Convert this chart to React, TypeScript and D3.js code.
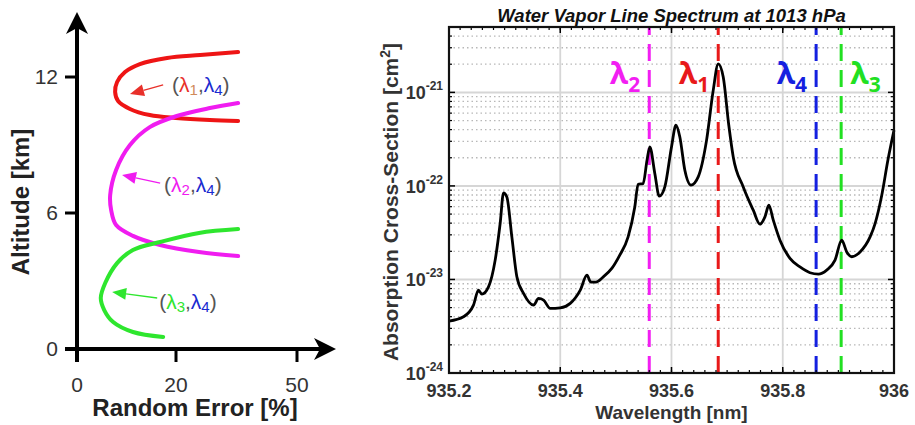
import React from "react";
import * as d3 from "d3";

// ---------- Left panel data ----------
const altitudeTicks = [0, 6, 12];
const errorTicks = [0, 20, 50];

const redErr = [35.4, 26.0, 18.2, 12.7, 9.7, 8.1, 7.7, 8.3, 10.7, 14.7, 20.0, 28.4, 35.4];
const redAlt = [13.1, 12.97, 12.84, 12.57, 12.22, 11.78, 11.34, 10.94, 10.59, 10.32, 10.19, 10.1, 10.06];

const magErr = [35.4, 28.4, 20.2, 14.7, 10.7, 7.9, 6.7, 6.9, 7.9, 11.3, 16.8, 25.7, 35.4];
const magAlt = [10.85, 10.63, 10.28, 9.79, 9.0, 7.9, 6.79, 6.13, 5.47, 4.99, 4.59, 4.28, 4.1];

const grnErr = [35.4, 25.7, 16.8, 11.3, 8.1, 5.7, 4.8, 5.5, 7.3, 11.3, 17.4];
const grnAlt = [5.29, 5.12, 4.72, 4.37, 3.79, 2.91, 2.25, 1.72, 1.19, 0.75, 0.53];

// ---------- Right panel data ----------
const wavelengths = [
  935.2, 935.226, 935.244, 935.253, 935.259, 935.271, 935.283, 935.292, 935.298, 935.304,
  935.313, 935.322, 935.334, 935.352, 935.361, 935.37, 935.382, 935.4, 935.418, 935.436,
  935.448, 935.455, 935.464, 935.477, 935.493, 935.507, 935.522, 935.534, 935.54, 935.549,
  935.556, 935.561, 935.57, 935.578, 935.588, 935.6, 935.608, 935.615, 935.624, 935.635,
  935.648, 935.663, 935.675, 935.684, 935.693, 935.703, 935.711, 935.729, 935.747, 935.759,
  935.768, 935.775, 935.783, 935.795, 935.813, 935.831, 935.849, 935.864, 935.879, 935.894,
  935.906, 935.915, 935.924, 935.939, 935.957, 935.966, 935.978, 935.989, 936.0,
];
const crossSections = [
  3.59e-24, 3.99e-24, 5.32e-24, 7.69e-24, 6.97e-24, 8.34e-24, 1.61e-23, 3.99e-23, 8.41e-23, 7.62e-23,
  2.85e-23, 1.07e-23, 7.1e-24, 5.32e-24, 6.27e-24, 6.01e-24, 4.91e-24, 4.98e-24, 5.55e-24, 7.69e-24,
  1.11e-23, 9.38e-24, 9.38e-24, 1.06e-23, 1.32e-23, 1.82e-23, 2.85e-23, 5.96e-23, 1.04e-22, 1.06e-22,
  1.88e-22, 2.61e-22, 1.36e-22, 7.76e-23, 9.75e-23, 2.61e-22, 4.45e-22, 3.33e-22, 1.47e-22, 1.02e-22,
  1.25e-22, 3.07e-22, 1.05e-21, 2.02e-21, 1.46e-21, 4.45e-22, 2.04e-22, 9.75e-23, 5.5e-23, 3.9e-23,
  4.67e-23, 6.22e-23, 4.3e-23, 2.63e-23, 1.68e-23, 1.36e-23, 1.18e-23, 1.14e-23, 1.26e-23, 1.61e-23,
  2.63e-23, 1.97e-23, 1.75e-23, 1.97e-23, 2.85e-23, 3.96e-23, 7.94e-23, 1.88e-22, 3.93e-22,
];
const xTicks = [935.2, 935.4, 935.6, 935.8, 936];
const xTickLabels = ["935.2", "935.4", "935.6", "935.8", "936"];
const yDecades = [-24, -23, -22, -21];
const lineNames = ["2", "1", "4", "3"];
const lineWavelengths = [935.56, 935.684, 935.86, 935.905];
const lineColors = ["#f21ef2", "#e8191a", "#1420e0", "#22e022"];

export default function App() {
  // ---- left scales ----
  const ex = d3.scaleLinear().domain([0, 20, 50]).range([77, 176, 297]);
  const ay = d3.scaleLinear().domain([0, 12]).range([349, 77]);
  const curve = d3
    .line<[number, number]>()
    .x((d) => ex(d[0]))
    .y((d) => ay(d[1]))
    .curve(d3.curveCatmullRom.alpha(0.5));
  const zip = (a: number[], b: number[]) => a.map((v, i) => [v, b[i]] as [number, number]);

  // ---- right scales ----
  const L = 449, R = 894, T = 27, B = 373;
  const x = d3.scaleLinear().domain([935.2, 936]).range([L, R]);
  const y = d3.scaleLog().domain([1e-24, 5e-21]).range([B, T]);
  const spec = d3
    .line<number>()
    .x((_, i) => x(wavelengths[i]))
    .y((d) => y(d))
    .curve(d3.curveMonotoneX);

  const minorY: number[] = [];
  yDecades.forEach((d) => {
    for (let m = 2; m <= 9; m++) {
      const v = m * Math.pow(10, d);
      if (v <= 5.0001e-21) minorY.push(v);
    }
  });
  const minorX = d3.range(0, 41).map((i) => 935.2 + i * 0.02);

  const arrow = (tail: [number, number], tip: [number, number], color: string) => {
    const x1 = ex(tail[0]), y1 = ay(tail[1]), x2 = ex(tip[0]), y2 = ay(tip[1]);
    const ang = Math.atan2(y2 - y1, x2 - x1);
    const hl = 14, hw = 6;
    const bx = x2 - hl * Math.cos(ang), by = y2 - hl * Math.sin(ang);
    const px = -Math.sin(ang) * hw, py = Math.cos(ang) * hw;
    return (
      <g>
        <line x1={x1} y1={y1} x2={bx} y2={by} stroke={color} strokeWidth={1.3} />
        <polygon points={`${x2},${y2} ${bx + px},${by + py} ${bx - px},${by - py}`} fill={color} />
      </g>
    );
  };

  const annot = (pos: [number, number], c1: string, s1: string, sc: string) => (
    <text x={ex(pos[0])} y={ay(pos[1]) + 7} fontSize={21} fontFamily="Liberation Sans, Arial, sans-serif" fill="#555">
      (<tspan fill={c1}>λ</tspan>
      <tspan fill={sc} fontSize={15} dy={3}>{s1}</tspan>
      <tspan dy={-3}>,</tspan>
      <tspan fill="#1a2ad0">λ</tspan>
      <tspan fill="#1a2ad0" fontSize={15} dy={3}>4</tspan>
      <tspan dy={-3}>)</tspan>
    </text>
  );

  return (
    <div style={{ position: "absolute", left: 0, top: 0 }}>
      <svg width={915} height={425} style={{ display: "block", background: "#fff" }}>
        {/* ================= LEFT PANEL ================= */}
        <g fontFamily="Liberation Sans, Arial, sans-serif">
          <path d={curve(zip(redErr, redAlt)) || ""} fill="none" stroke="#ee1515" strokeWidth={4} strokeLinecap="round" />
          <path d={curve(zip(magErr, magAlt)) || ""} fill="none" stroke="#f01cf0" strokeWidth={4} strokeLinecap="round" />
          <path d={curve(zip(grnErr, grnAlt)) || ""} fill="none" stroke="#2ee62e" strokeWidth={4} strokeLinecap="round" />

          <line x1={ex(0)} y1={ay(0) + 13} x2={ex(0)} y2={26} stroke="#000" strokeWidth={4} />
          <line x1={ex(0) - 12} y1={ay(0)} x2={322} y2={ay(0)} stroke="#000" strokeWidth={4} />
          <path d={`M${ex(0)},12 L${ex(0) + 11},34 L${ex(0)},28 L${ex(0) - 11},34 Z`} fill="#000" />
          <path d={`M336,${ay(0)} L314,${ay(0) - 11} L320,${ay(0)} L314,${ay(0) + 11} Z`} fill="#000" />
          {altitudeTicks.filter((t) => t > 0).map((t) => (
            <line key={t} x1={ex(0) - 12} x2={ex(0)} y1={ay(t)} y2={ay(t)} stroke="#000" strokeWidth={3} />
          ))}
          {errorTicks.filter((t) => t > 0).map((t) => (
            <line key={t} x1={ex(t)} x2={ex(t)} y1={ay(0)} y2={ay(0) + 13} stroke="#000" strokeWidth={3} />
          ))}
          {altitudeTicks.map((t) => (
            <text key={t} x={58} y={ay(t) + 7} textAnchor="end" fontSize={21} fill="#333">{t}</text>
          ))}
          {errorTicks.map((t) => (
            <text key={t} x={ex(t)} y={392} textAnchor="middle" fontSize={21} fill="#333">{t}</text>
          ))}
          <text x={195} y={416} textAnchor="middle" fontSize={24} fontWeight="bold" fill="#222">Random Error [%]</text>
          <text transform="translate(29,202) rotate(-90)" textAnchor="middle" fontSize={24} fontWeight="bold" fill="#222">Altitude [km]</text>

          {arrow([17.4, 11.65], [10.7, 11.25], "#e8302a")}
          {annot([19.2, 11.65], "#e8302a", "1", "#d08a5a")}
          {arrow([16.8, 7.32], [9.1, 7.68], "#f01cf0")}
          {annot([17.6, 7.24], "#f01cf0", "2", "#f01cf0")}
          {arrow([16.2, 2.25], [7.1, 2.51], "#2ee62e")}
          {annot([16.6, 2.07], "#2ee62e", "3", "#2ee62e")}
        </g>

        {/* ================= RIGHT PANEL ================= */}
        <g fontFamily="Liberation Sans, Arial, sans-serif">
          {minorY.map((v, i) => (
            <line key={"mg" + i} x1={L} x2={R} y1={y(v)} y2={y(v)} stroke="#b8b8b8" strokeWidth={1.3} strokeDasharray="1.5 3" />
          ))}
          {yDecades.slice(1).map((d) => (
            <line key={"Mg" + d} x1={L} x2={R} y1={y(Math.pow(10, d))} y2={y(Math.pow(10, d))} stroke="#d6d6d6" strokeWidth={2} />
          ))}
          {xTicks.slice(1, -1).map((t) => (
            <line key={"vg" + t} x1={x(t)} x2={x(t)} y1={T} y2={B} stroke="#d6d6d6" strokeWidth={1.8} />
          ))}

          {lineWavelengths.map((w, i) => (
            <line key={"dl" + i} x1={x(w)} x2={x(w)} y1={B} y2={T} stroke={lineColors[i]} strokeWidth={3} strokeDasharray="17 9" />
          ))}

          <path d={spec(crossSections) || ""} fill="none" stroke="#000" strokeWidth={2.8} strokeLinejoin="round" />

          {lineWavelengths.map((w, i) => {
            const right = i === 3;
            return (
              <text
                key={"ll" + i}
                x={right ? x(w) + 9 : x(w) - 9}
                y={84}
                textAnchor={right ? "start" : "end"}
                fontFamily="Open Sans, Liberation Sans, sans-serif"
                fontWeight="bold"
                fontSize={30}
                fill={lineColors[i]}
              >
                λ<tspan fontSize={21} dy={8}>{lineNames[i]}</tspan>
              </text>
            );
          })}

          {minorX.map((t, i) => (
            <g key={"mx" + i}>
              <line x1={x(t)} x2={x(t)} y1={B} y2={B - 3} stroke="#000" strokeWidth={1.2} />
              <line x1={x(t)} x2={x(t)} y1={T} y2={T + 3} stroke="#000" strokeWidth={1.2} />
            </g>
          ))}
          {xTicks.map((t) => (
            <g key={"Mx" + t}>
              <line x1={x(t)} x2={x(t)} y1={B} y2={B - 6} stroke="#000" strokeWidth={1.5} />
              <line x1={x(t)} x2={x(t)} y1={T} y2={T + 6} stroke="#000" strokeWidth={1.5} />
            </g>
          ))}
          {minorY.map((v, i) => (
            <g key={"my" + i}>
              <line x1={L} x2={L + 3} y1={y(v)} y2={y(v)} stroke="#000" strokeWidth={1.2} />
              <line x1={R} x2={R - 3} y1={y(v)} y2={y(v)} stroke="#000" strokeWidth={1.2} />
            </g>
          ))}
          {yDecades.map((d) => (
            <g key={"My" + d}>
              <line x1={L} x2={L + 6} y1={y(Math.pow(10, d))} y2={y(Math.pow(10, d))} stroke="#000" strokeWidth={1.5} />
              <line x1={R} x2={R - 6} y1={y(Math.pow(10, d))} y2={y(Math.pow(10, d))} stroke="#000" strokeWidth={1.5} />
            </g>
          ))}

          <rect x={L} y={T} width={R - L} height={B - T} fill="none" stroke="#111" strokeWidth={2.2} />

          {xTicks.map((t, i) => (
            <text key={"xl" + t} x={x(t)} y={397} textAnchor="middle" fontSize={18} fontWeight="bold" fill="#333">
              {xTickLabels[i]}
            </text>
          ))}
          {yDecades.map((d) => (
            <text key={"yl" + d} x={443} y={y(Math.pow(10, d)) + 7} textAnchor="end" fontSize={18} fontWeight="bold" fill="#333">
              10<tspan fontSize={12} dy={-9}>{String(d)}</tspan>
            </text>
          ))}

          <text x={(L + R) / 2} y={22} textAnchor="middle" fontSize={18.5} fontWeight="bold" fontStyle="italic" fill="#111">
            Water Vapor Line Spectrum at 1013 hPa
          </text>
          <text x={(L + R) / 2} y={419} textAnchor="middle" fontSize={19} fontWeight="bold" fill="#333">
            Wavelength [nm]
          </text>
          <text transform="translate(398,202) rotate(-90)" textAnchor="middle" fontSize={21} fontWeight="bold" fill="#333">
            Absorption Cross-Section [cm<tspan fontSize={14} dy={-8}>2</tspan><tspan dy={8}>]</tspan>
          </text>
        </g>
      </svg>
    </div>
  );
}
